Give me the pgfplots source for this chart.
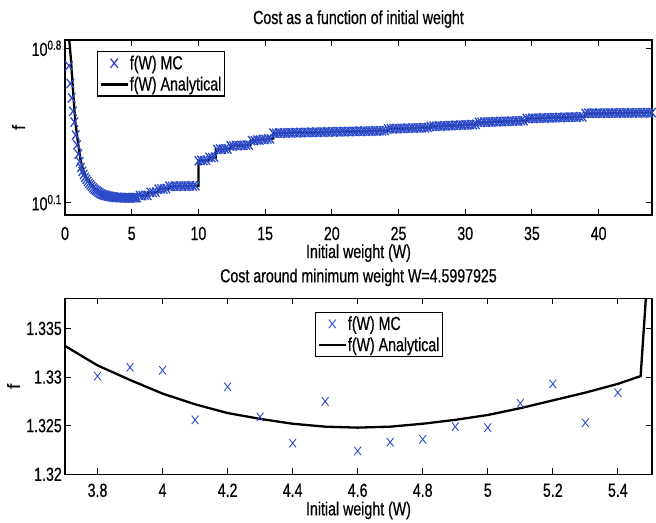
\documentclass[border=0pt]{standalone}
\usepackage{pgfplots}
\pgfplotsset{compat=1.18}
\usepackage{fontspec}
\setmainfont{Liberation Sans}[FakeStretch=0.75, FakeBold=0.5]
\newfontfamily\plainsans{Liberation Sans}[FakeBold=0.5]
\definecolor{mcblue}{RGB}{45,75,200}
\newcommand{\tf}{\fontsize{19}{22}\selectfont}

% f(W) Monte Carlo, full range
\pgfplotstableread{
W f
0.3 5.25
0.4 4.37
0.5 3.76
0.6 3.27
0.7 2.92
0.8 2.55
0.9 2.30
1.0 2.09
1.1 1.93
1.2 1.82
1.3 1.746
1.4 1.690
1.5 1.640
1.6 1.607
1.7 1.574
1.8 1.542
1.9 1.517
2.0 1.493
2.1 1.469
2.2 1.449
2.3 1.435
2.4 1.422
2.5 1.406
2.6 1.393
2.7 1.380
2.8 1.371
2.9 1.365
3.0 1.360
3.1 1.355
3.2 1.350
3.3 1.346
3.4 1.342
3.5 1.339
3.6 1.336
3.7 1.333
3.8 1.3301
3.9 1.3310
4.0 1.3307
4.1 1.3256
4.2 1.3290
4.3 1.3259
4.4 1.3232
4.5 1.3275
4.6 1.3224
4.7 1.3233
4.8 1.3236
4.9 1.3249
5.0 1.3248
5.1 1.3273
5.2 1.3293
5.3 1.3253
5.4 1.3284
5.6 1.357
5.8 1.355
6.0 1.360
6.2 1.358
6.4 1.403
6.6 1.400
6.8 1.406
7.0 1.450
7.2 1.455
7.4 1.452
7.6 1.457
7.8 1.495
8.0 1.492
8.2 1.497
8.4 1.493
8.6 1.498
8.8 1.495
9.0 1.500
9.2 1.496
9.4 1.501
9.6 1.497
9.8 1.502
10.0 1.951
10.2 1.959
10.4 1.954
10.6 1.962
10.8 2.021
11.0 2.015
11.2 2.023
11.4 2.196
11.6 2.205
11.8 2.200
12.0 2.209
12.2 2.204
12.4 2.278
12.6 2.274
12.8 2.286
13.0 2.281
13.2 2.292
13.4 2.288
13.6 2.299
13.8 2.295
14.0 2.408
14.2 2.406
14.4 2.422
14.6 2.420
14.8 2.436
15.0 2.434
15.2 2.450
15.4 2.449
15.6 2.604
15.8 2.597
16.0 2.607
16.2 2.601
16.4 2.611
16.6 2.603
16.8 2.614
17.0 2.607
17.2 2.617
17.4 2.610
17.6 2.620
17.8 2.614
18.0 2.623
18.2 2.617
18.4 2.627
18.6 2.620
18.8 2.630
19.0 2.623
19.2 2.633
19.4 2.627
19.6 2.636
19.8 2.630
20.0 2.640
20.2 2.633
20.4 2.643
20.6 2.636
20.8 2.646
21.0 2.640
21.2 2.649
21.4 2.643
21.6 2.653
21.8 2.646
22.0 2.656
22.2 2.650
22.4 2.659
22.6 2.653
22.8 2.662
23.0 2.656
23.2 2.666
23.4 2.659
23.6 2.669
23.8 2.663
24.0 2.672
24.2 2.717
24.4 2.726
24.6 2.721
24.8 2.731
25.0 2.726
25.2 2.736
25.4 2.731
25.6 2.741
25.8 2.736
26.0 2.746
26.2 2.741
26.4 2.751
26.6 2.746
26.8 2.756
27.0 2.751
27.2 2.761
27.4 2.786
27.6 2.797
27.8 2.793
28.0 2.804
28.2 2.799
28.4 2.811
28.6 2.806
28.8 2.818
29.0 2.813
29.2 2.825
29.4 2.820
29.6 2.832
29.8 2.827
30.0 2.839
30.2 2.834
30.4 2.845
30.6 2.840
30.8 2.852
31.0 2.915
31.2 2.910
31.4 2.921
31.6 2.916
31.8 2.927
32.0 2.922
32.2 2.933
32.4 2.928
32.6 2.939
32.8 2.934
33.0 2.945
33.2 2.940
33.4 2.951
33.6 2.946
33.8 2.957
34.0 2.952
34.2 2.963
34.4 2.958
34.6 3.034
34.8 3.029
35.0 3.040
35.2 3.034
35.4 3.045
35.6 3.039
35.8 3.051
36.0 3.045
36.2 3.056
36.4 3.050
36.6 3.062
36.8 3.056
37.0 3.067
37.2 3.061
37.4 3.072
37.6 3.066
37.8 3.078
38.0 3.072
38.2 3.083
38.4 3.077
38.6 3.089
38.8 3.083
39.0 3.196
39.2 3.205
39.4 3.197
39.6 3.207
39.8 3.199
40.0 3.208
40.2 3.200
40.4 3.210
40.6 3.202
40.8 3.211
41.0 3.204
41.2 3.213
41.4 3.205
41.6 3.215
41.8 3.207
42.0 3.216
42.2 3.208
42.4 3.218
42.6 3.210
42.8 3.219
43.0 3.212
43.2 3.221
43.4 3.213
43.6 3.222
43.8 3.215
44.0 3.224
}\mcfull

% f(W) analytical, full range
\pgfplotstableread{
W f
0.225 7.60
0.323 6.85
0.45 5.57
0.6 4.07
0.773 2.92
0.975 2.35
1.163 1.968
1.35 1.774
1.575 1.648
1.875 1.549
2.25 1.455
2.85 1.374
3.3 1.348
3.7 1.3332
4.0 1.3283
4.3 1.3257
4.6 1.3248
5.0 1.3261
5.47 1.3301
5.5 1.355
6.25 1.360
6.25 1.400
7.0 1.405
7.0 1.452
7.8 1.456
7.8 1.493
10.0 1.500
10.0 1.954
10.8 1.960
10.8 2.018
11.3 2.020
11.3 2.198
12.4 2.210
12.4 2.275
13.9 2.300
13.9 2.400
15.6 2.460
15.6 2.600
24.2 2.670
24.2 2.720
27.4 2.760
27.4 2.790
30.9 2.850
30.9 2.910
34.6 2.965
34.6 3.030
39.0 3.090
39.0 3.200
44.0 3.220
}\anfull

% around the minimum
\pgfplotstableread{
W f
3.8 1.3301
3.9 1.3310
4.0 1.3307
4.1 1.3256
4.2 1.3290
4.3 1.3259
4.4 1.3232
4.5 1.3275
4.6 1.3224
4.7 1.3233
4.8 1.3236
4.9 1.3249
5.0 1.3248
5.1 1.3273
5.2 1.3293
5.3 1.3253
5.4 1.3284
}\mczoom

\pgfplotstableread{
W f
3.7 1.3332
3.8 1.3312
3.9 1.3297
4.0 1.3283
4.1 1.3272
4.2 1.3263
4.3 1.3257
4.4 1.3252
4.5 1.3249
4.6 1.3248
4.7 1.3249
4.8 1.3252
4.9 1.3256
5.0 1.3261
5.1 1.3268
5.2 1.3276
5.3 1.3284
5.4 1.3293
5.47 1.3301
5.5 1.345
}\anzoom

\pgfplotsset{
  matfig/.style={
    scale only axis, width=587bp,
    axis line style={line width=1.1bp},
    every tick/.style={black, line width=0.9bp},
    major tick length=6bp,
    tick align=inside, tick pos=both,
    xticklabel style={font=\tf, anchor=base, inner sep=0pt},
    yticklabel style={font=\tf, anchor=east, inner sep=0pt, xshift=-3bp},
    /pgf/number format/assume math mode=true,
    every axis title/.style={at={(0.5,1)}, anchor=base, yshift=16bp, font=\tf},
    legend style={anchor=north west, draw=black, line width=1.1bp, fill=white,
      inner xsep=2bp, inner ysep=1bp, font=\tf, row sep=0pt,
      nodes={inner xsep=1bp, inner ysep=3bp}, cells={anchor=west}},
    legend image code/.code={\draw[mark repeat=2,mark phase=2,##1]
      plot coordinates {(0bp,0bp) (13.5bp,0bp) (27bp,0bp)};},
  },
  xlab/.style={every axis x label/.style={at={(0.5,0)}, yshift=#1,
      anchor=base, inner sep=0pt, font=\tf}},
  ylab/.style={every axis y label/.style={at={(0,0.5)}, xshift=#1,
      rotate=90, anchor=base, inner sep=0pt,
      font=\plainsans\fontsize{18}{20}\selectfont}},
  mcstyle/.style={only marks, mcblue, mark=x, mark size=6bp,
    mark options={xscale=0.8, line width=0.9bp}},
  anstyle/.style={black, line width=2.3bp, no marks},
}

\begin{document}
\begin{tikzpicture}
\useasboundingbox (0,0) rectangle (656bp,-523bp);

\begin{axis}[matfig, at={(65bp,-40bp)}, anchor=north west, height=175bp,
  ymode=log, log basis y=10,
  xmin=0, xmax=44, ymin=1.107, ymax=6.88,
  xtick={0,5,10,15,20,25,30,35,40},
  ytick={1.258925,6.309573},
  yticklabels={10\textsuperscript{0.1},10\textsuperscript{0.8}},
  yminorticks=false,
  xticklabel style={yshift=-25bp},
  xlab=-43bp, ylab=-40bp,
  title={Cost as a function of initial weight},
  xlabel={Initial weight (W)}, ylabel={f},
  legend style={at={(0.0545,0.937)}}]
\addplot[mcstyle, mark size=6.5bp, mark options={xscale=0.8, line width=1.3bp}]
  table[x=W,y=f] {\mcfull};
\addplot[anstyle] table[x=W,y=f] {\anfull};
\legend{f(W) MC, f(W) Analytical}
\end{axis}

\begin{axis}[matfig, at={(65bp,-298.3bp)}, anchor=north west, height=176bp,
  xmin=3.7, xmax=5.505, ymin=1.32, ymax=1.3381,
  xtick={3.8,4,4.2,4.4,4.6,4.8,5,5.2,5.4},
  ytick={1.32,1.325,1.33,1.335},
  scaled y ticks=false,
  yticklabel style={/pgf/number format/precision=4},
  xticklabel style={yshift=-22.5bp},
  xlab=-41bp, ylab=-45bp,
  title={Cost around minimum weight W=4.5997925},
  xlabel={Initial weight (W)}, ylabel={f},
  legend style={at={(0.426,0.924)}}]
\addplot[mcstyle] table[x=W,y=f] {\mczoom};
\addplot[anstyle] table[x=W,y=f] {\anzoom};
\legend{f(W) MC, f(W) Analytical}
\end{axis}
\end{tikzpicture}
\end{document}
